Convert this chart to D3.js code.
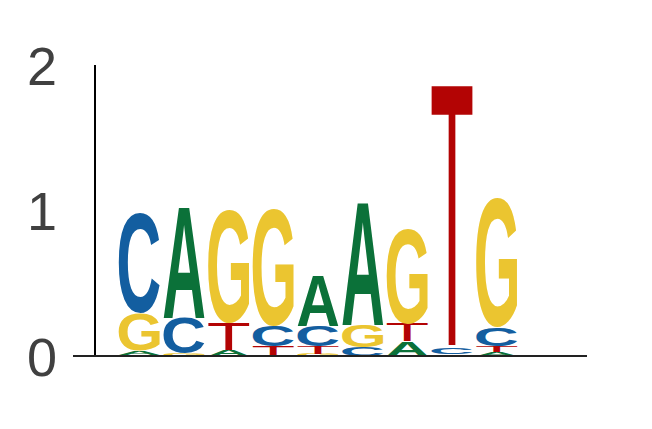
<!DOCTYPE html>
<html>
<head>
<meta charset="utf-8">
<script src="https://cdn.jsdelivr.net/npm/d3@7"></script>
<style>
  html, body { margin: 0; padding: 0; background: #fff; }
  svg { display: block; }
</style>
</head>
<body>
<svg id="chart" width="652" height="429"></svg>
<script>
// ---- data (bits per letter, per position) ----
const positions = [1, 2, 3, 4, 5, 6, 7, 8, 9];
const letters = ["A", "C", "G", "T"];
const bitsA = [0.03, 0.77, 0.04, 0.00, 0.35, 0.85, 0.10, 0.01, 0.03];
const bitsC = [0.69, 0.24, 0.00, 0.14, 0.14, 0.06, 0.00, 0.04, 0.13];
const bitsG = [0.25, 0.02, 0.78, 0.81, 0.015, 0.15, 0.65, 0.00, 0.89];
const bitsT = [0.01, 0.00, 0.19, 0.07, 0.05, 0.00, 0.12, 1.81, 0.04];
const yTicks = [0, 1, 2];
const letterColors = { A: "#0b7139", C: "#135ea0", G: "#ebc530", T: "#b30404" };
const letterWeights = { A: "bold", C: "bold", G: "bold", T: "normal" };

const svg = d3.select("#chart");
const x = d3.scaleBand().domain(positions).range([117, 519]).paddingInner(0.08).paddingOuter(0.04);
const y = d3.scaleLinear().domain([0, 2]).range([356, 65]);

const FONT_FAMILY = "'Liberation Sans', Arial, sans-serif";
const FS = 100;
const ctx = document.createElement("canvas").getContext("2d");
const metrics = {};
letters.forEach(l => {
  ctx.font = `${letterWeights[l]} ${FS}px ${FONT_FAMILY}`;
  const m = ctx.measureText(l);
  metrics[l] = {
    left: m.actualBoundingBoxLeft,
    w: m.actualBoundingBoxLeft + m.actualBoundingBoxRight,
    asc: m.actualBoundingBoxAscent,
    h: m.actualBoundingBoxAscent + m.actualBoundingBoxDescent
  };
});

const bitsByLetter = { A: bitsA, C: bitsC, G: bitsG, T: bitsT };
const stacks = positions.map((p, i) => {
  const items = letters.map(l => ({ letter: l, bits: bitsByLetter[l][i] }))
    .filter(d => d.bits > 0)
    .sort((a, b) => a.bits - b.bits);
  let acc = 0;
  items.forEach(d => { d.y0 = acc; acc += d.bits; d.y1 = acc; d.pos = p; });
  return items;
});

const g = svg.append("g");
stacks.forEach(items => {
  items.forEach(d => {
    const m = metrics[d.letter];
    const bx = x(d.pos), bw = x.bandwidth();
    const top = y(d.y1), h = y(d.y0) - y(d.y1);
    const sx = bw / m.w, sy = h / m.h;
    g.append("text")
      .attr("transform", `translate(${bx},${top}) scale(${sx},${sy}) translate(${m.left},${m.asc})`)
      .attr("font-family", FONT_FAMILY)
      .attr("font-weight", letterWeights[d.letter])
      .attr("font-size", FS)
      .attr("fill", letterColors[d.letter])
      .text(d.letter);
  });
});

// axes
svg.append("line")
  .attr("x1", 95).attr("x2", 95).attr("y1", y(0)).attr("y2", y(2))
  .attr("stroke", "#000").attr("stroke-width", 2);
svg.append("line")
  .attr("x1", 73).attr("x2", 587).attr("y1", y(0)).attr("y2", y(0))
  .attr("stroke", "#222").attr("stroke-width", 2);

svg.selectAll("text.tick").data(yTicks).enter().append("text")
  .attr("class", "tick")
  .attr("x", 57).attr("y", d => y(d) + 19.5)
  .attr("text-anchor", "end")
  .attr("font-family", "'Liberation Sans', Arial, sans-serif")
  .attr("font-size", 54)
  .attr("fill", "#404040")
  .text(d => d);
</script>
</body>
</html>
